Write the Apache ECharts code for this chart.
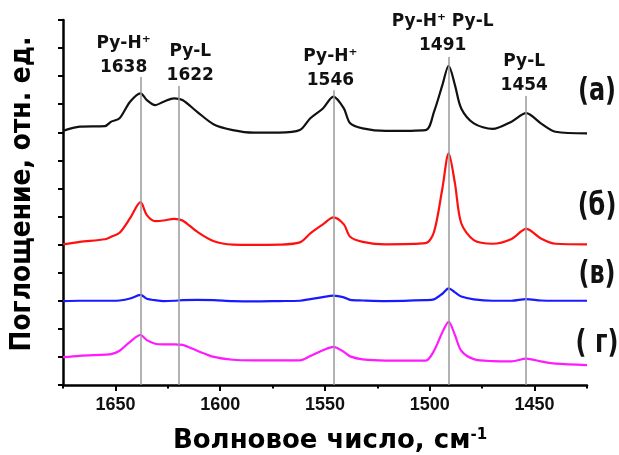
<!DOCTYPE html>
<html><head><meta charset="utf-8">
<script src="https://cdn.jsdelivr.net/npm/echarts@6/dist/echarts.min.js"></script>
<style>html,body{margin:0;padding:0;background:#fff}#c{width:619px;height:455px}</style>
</head><body><div id="c"></div>
<script>
// ---- data ----
const wavenumbers = [1675,1667,1655,1652,1648,1643,1638,1635,1631,1627,1622,1618,1611,1603,1594,1584,1572,1562,1557,1551,1546,1541,1538,1532,1521,1502,1498,1494,1491,1488,1485,1479,1470,1461,1454,1447,1440,1425];
const seriesA = [9.05,9.20,9.22,9.38,9.50,10.09,10.39,10.15,9.97,10.09,10.21,10.15,9.73,9.28,9.08,8.99,8.99,9.08,9.50,9.85,10.27,9.85,9.32,9.14,9.05,9.08,9.73,10.68,11.37,10.68,9.85,9.32,9.12,9.38,9.68,9.32,9.02,8.96];
const seriesB = [5.01,5.10,5.19,5.28,5.42,5.94,6.51,6.05,5.84,5.86,5.92,5.86,5.46,5.12,5.00,4.99,5.00,5.08,5.40,5.72,5.97,5.72,5.28,5.10,5.01,5.05,5.45,7.00,8.25,7.18,5.76,5.16,5.03,5.20,5.56,5.22,5.03,5.01];
const seriesV = [2.99,3.00,3.00,3.00,3.01,3.08,3.21,3.07,3.02,2.99,3.00,3.02,3.03,3.02,2.99,2.98,2.99,3.00,3.06,3.13,3.18,3.12,3.03,3.01,2.99,3.02,3.05,3.25,3.44,3.30,3.15,3.05,3.00,3.00,3.06,3.01,3.00,3.00];
const seriesG = [0.99,1.04,1.08,1.10,1.22,1.54,1.78,1.60,1.47,1.45,1.45,1.43,1.22,1.00,0.90,0.88,0.88,0.88,1.03,1.24,1.36,1.18,1.02,0.91,0.87,0.87,1.22,1.88,2.25,1.78,1.22,0.92,0.85,0.84,0.94,0.84,0.76,0.71];
const seriesNames = ['(а)','(б)','(в)','( г)'];
const xTickLabels = ['1650','1600','1550','1500','1450'];
const xTickPositions = ['1425','1450','1475','1500','1525','1550','1575','1600','1625','1650','1675'];
const peakLineWn = [1638,1620,1546,1491,1454];
const peakLineTop = [10.97,10.65,10.5,11.68,10.29];
const peakNames = ['Py-H⁺','Py-L','Py-H⁺','Py-H⁺ Py-L','Py-L'];
const peakNumbers = ['1638','1622','1546','1491','1454'];
const xTitle = 'Волновое число, см';
const yTitle = 'Поглощение, отн. ед.';

// ---- styles / layout ----
const colors = ['#111111','#ff1010','#1a1aff','#ff1aff'];
const peakLabelDx = [-17,12,-3,-6,-2];
const peakLabelY = [55.5,64,68.5,33.5,74];
const seriesLabelY = [92,207,275,344];
const pair = arr => wavenumbers.map((w,i)=>[w,arr[i]]);

const chart = echarts.init(document.getElementById('c'));
const axisCommon = {min:1425,max:1675,inverse:true};
chart.setOption({
  animation:false,
  backgroundColor:'#fff',
  grid:{left:63,right:32,top:20,bottom:70},
  xAxis:[
    Object.assign({type:'value',interval:25,position:'bottom',
      axisLine:{show:true,onZero:false,lineStyle:{color:'#000',width:2.5}},
      axisTick:{show:true,length:3.5,lineStyle:{color:'#000',width:2}},
      axisLabel:{margin:11,color:'#111',fontFamily:'Liberation Sans',fontWeight:'bold',fontSize:18,
        formatter:v=>xTickLabels.includes(String(v))?String(v):''},
      splitLine:{show:false}},axisCommon),
    {type:'category',position:'bottom',boundaryGap:false,inverse:true,data:xTickPositions,
      axisLine:{show:false},axisLabel:{show:false},splitLine:{show:false},
      axisTick:{show:true,length:6,lineStyle:{color:'#000',width:2},
        interval:(idx,val)=>xTickLabels.includes(val)}}
  ],
  yAxis:{type:'value',min:0,max:13,interval:1,
    axisLine:{show:true,onZero:false,lineStyle:{color:'#000',width:2.5}},
    axisTick:{show:true,length:5,lineStyle:{color:'#000',width:2}},
    axisLabel:{show:false},splitLine:{show:false}},
  series:[
    {type:'line',data:[],z:1,silent:true,
      markLine:{silent:true,symbol:['none','none'],label:{show:false},
        lineStyle:{color:'#9a9a9a',width:1.5,type:'solid'},
        data:peakLineWn.map((w,i)=>[{coord:[w,0]},{coord:[w,peakLineTop[i]]}])}},
    ...[seriesA,seriesB,seriesV,seriesG].map((s,i)=>({
      type:'line',name:seriesNames[i],data:pair(s),showSymbol:false,smooth:0.3,z:3,
      lineStyle:{color:colors[i],width:2.2},itemStyle:{color:colors[i]}}))
  ]
});

const graphics = [];
peakLineWn.forEach((w,i)=>{
  const px = chart.convertToPixel({gridIndex:0},[w,0])[0];
  graphics.push({type:'text',x:px+peakLabelDx[i],y:peakLabelY[i],z:10,
    style:{text:peakNames[i]+'\n'+peakNumbers[i],font:'bold 17px "DejaVu Sans"',lineHeight:24,
      fill:'#111',align:'center',verticalAlign:'middle'}});
});
seriesNames.forEach((n,i)=>{
  graphics.push({type:'text',x:597,y:seriesLabelY[i],scaleY:1.3,z:10,
    style:{text:n,font:'bold 24px "DejaVu Sans"',fill:'#111',align:'center',verticalAlign:'middle'}});
});
graphics.push({type:'text',x:23,y:194,rotation:Math.PI/2,scaleY:1.15,z:10,
  style:{text:yTitle,font:'bold 25px "DejaVu Sans"',fill:'#000',align:'center',verticalAlign:'middle'}});
graphics.push({type:'text',x:330,y:441,z:10,
  style:{text:'{a|'+xTitle+'}{s|-1}',align:'center',verticalAlign:'middle',
    rich:{a:{font:'bold 26px "DejaVu Sans"',fill:'#000'},s:{font:'bold 15px "DejaVu Sans"',fill:'#000',verticalAlign:'top'}}}});
chart.setOption({graphic:graphics});
</script></body></html>
